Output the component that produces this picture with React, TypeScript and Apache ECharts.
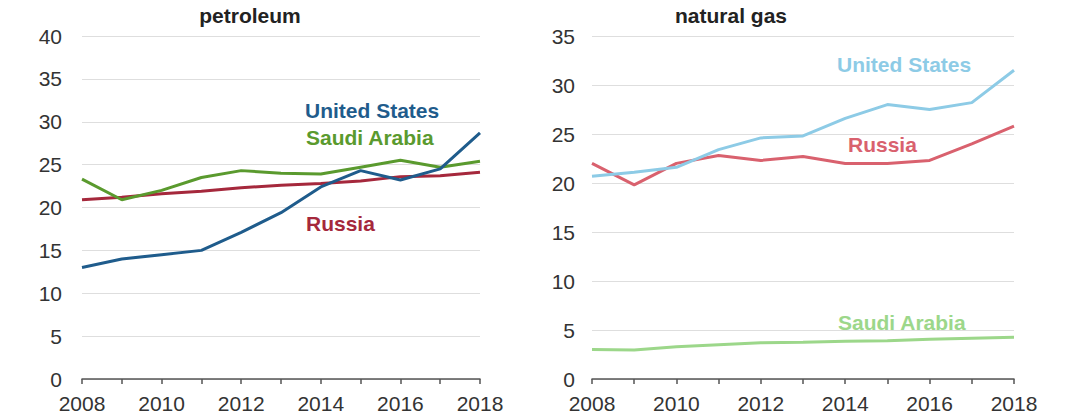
import React, { useEffect, useRef } from "react";
import * as echarts from "echarts";

const years = ["2008","2009","2010","2011","2012","2013","2014","2015","2016","2017","2018"];

const petroUS = [13.0, 14.0, 14.5, 15.0, 17.1, 19.4, 22.4, 24.3, 23.2, 24.5, 28.7];
const petroSaudi = [23.3, 20.9, 22.0, 23.5, 24.3, 24.0, 23.9, 24.7, 25.5, 24.7, 25.4];
const petroRussia = [20.9, 21.2, 21.6, 21.9, 22.3, 22.6, 22.8, 23.1, 23.6, 23.7, 24.1];

const gasUS = [20.7, 21.1, 21.6, 23.4, 24.6, 24.8, 26.6, 28.0, 27.5, 28.2, 31.5];
const gasRussia = [22.0, 19.8, 22.0, 22.8, 22.3, 22.7, 22.0, 22.0, 22.3, 24.0, 25.8];
const gasSaudi = [3.0, 2.95, 3.3, 3.5, 3.7, 3.75, 3.85, 3.9, 4.05, 4.15, 4.25];

const C = {
  pUS: "#1f5c8c",
  pSaudi: "#5a9a2e",
  pRussia: "#a5283c",
  gUS: "#8dcbe6",
  gRussia: "#d9616e",
  gSaudi: "#9cd78a",
};

const FONT = "Liberation Sans, Arial, sans-serif";

function xAxis(gridIndex: number) {
  return {
    type: "category",
    gridIndex,
    data: years,
    boundaryGap: false,
    axisLine: { lineStyle: { color: "#555", width: 1.5 } },
    axisTick: { show: true, interval: 0, length: 5, lineStyle: { color: "#555", width: 1.5 } },
    axisLabel: { interval: 1, color: "#333", fontSize: 21, lineHeight: 21, fontFamily: FONT, margin: 14 },
    splitLine: { show: false },
  };
}

function yAxis(gridIndex: number, max: number, margin: number) {
  return {
    type: "value",
    gridIndex,
    min: 0,
    max,
    interval: 5,
    axisLine: { show: false },
    axisTick: { show: false },
    axisLabel: { color: "#333", fontSize: 21, lineHeight: 18, fontFamily: FONT, margin },
    splitLine: { lineStyle: { color: "#dedede", width: 1.2 } },
  };
}

function line(name: string, data: number[], color: string, idx: number) {
  return {
    type: "line",
    name,
    data,
    xAxisIndex: idx,
    yAxisIndex: idx,
    symbol: "none",
    lineStyle: { color, width: 3 },
    z: 3,
  };
}

function label(text: string, x: number, y: number, color: string) {
  return {
    type: "text",
    x,
    y,
    style: { text, fill: color, font: `bold 21px ${FONT}`, textVerticalAlign: "middle" },
  };
}

export default function App() {
  const ref = useRef<HTMLDivElement>(null);
  useEffect(() => {
    if (!ref.current) return;
    const chart = echarts.init(ref.current, null, { renderer: "svg" });
    chart.setOption({
      animation: false,
      backgroundColor: "#ffffff",
      grid: [
        { left: 82, right: 590, top: 36, bottom: 41 },
        { left: 592, right: 56, top: 36, bottom: 41 },
      ],
      xAxis: [xAxis(0), xAxis(1)],
      yAxis: [yAxis(0, 40, 20), yAxis(1, 35, 17)],
      series: [
        line("Russia", petroRussia, C.pRussia, 0),
        line("Saudi Arabia", petroSaudi, C.pSaudi, 0),
        line("United States", petroUS, C.pUS, 0),
        line("Saudi Arabia", gasSaudi, C.gSaudi, 1),
        line("Russia", gasRussia, C.gRussia, 1),
        line("United States", gasUS, C.gUS, 1),
      ],
      graphic: [
        {
          type: "text",
          x: 250,
          y: 15,
          style: { text: "petroleum", fill: "#222", font: `bold 21px ${FONT}`, textAlign: "center", textVerticalAlign: "middle" },
        },
        {
          type: "text",
          x: 731,
          y: 15,
          style: { text: "natural gas", fill: "#222", font: `bold 21px ${FONT}`, textAlign: "center", textVerticalAlign: "middle" },
        },
        label("United States", 305, 110, C.pUS),
        label("Saudi Arabia", 306, 137, C.pSaudi),
        label("Russia", 306, 223, C.pRussia),
        label("United States", 837, 64, C.gUS),
        label("Russia", 848, 144, C.gRussia),
        label("Saudi Arabia", 838, 322, C.gSaudi),
      ],
    });
    return () => chart.dispose();
  }, []);
  return (
    <div
      ref={ref}
      style={{ position: "fixed", left: 0, top: 0, width: 1070, height: 420 }}
    />
  );
}
